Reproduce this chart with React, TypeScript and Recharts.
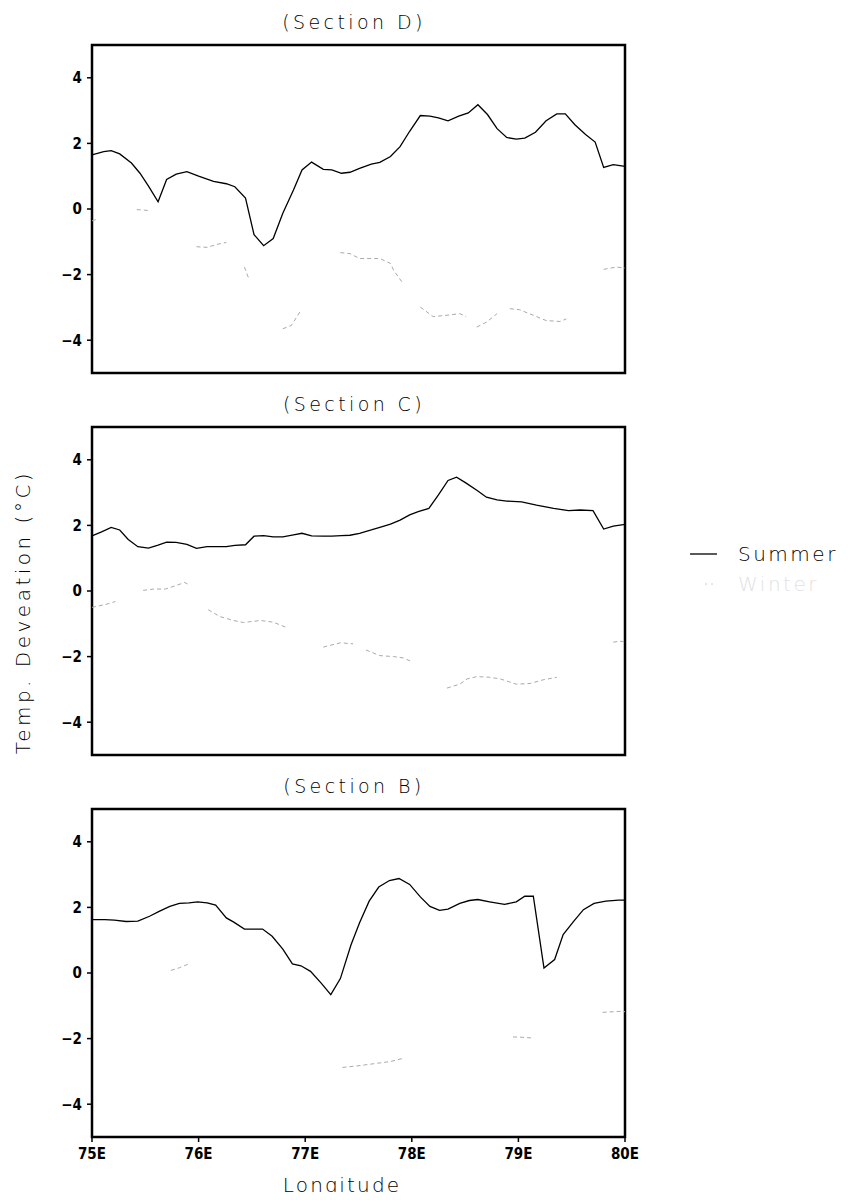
import { LineChart, Line, XAxis, YAxis, ReferenceArea } from "recharts";

// longitude ticks and value ticks
const lonTicks = [75, 76, 77, 78, 79, 80];
const valTicks = [-4, -2, 0, 2, 4];

// Section D
const dSummerLon = [
  75.0, 75.11, 75.18, 75.26, 75.37, 75.45, 75.53, 75.62, 75.7, 75.79, 75.89, 76.0,
  76.14, 76.26, 76.34, 76.44, 76.52, 76.61, 76.7, 76.79, 76.89, 76.97, 77.06, 77.17,
  77.25, 77.34, 77.42, 77.51, 77.62, 77.7, 77.8, 77.89, 77.98, 78.08, 78.17, 78.25,
  78.34, 78.44, 78.53, 78.62, 78.71, 78.8, 78.89, 78.98, 79.06, 79.16, 79.26, 79.36,
  79.44, 79.53, 79.63, 79.72, 79.8, 79.89, 80.0,
];
const dSummer = [
  1.65, 1.75, 1.78, 1.68, 1.4, 1.09, 0.7, 0.22, 0.9, 1.06, 1.14, 1.0,
  0.84, 0.77, 0.68, 0.33, -0.78, -1.12, -0.9, -0.13, 0.58, 1.19, 1.43, 1.21,
  1.19, 1.09, 1.12, 1.24, 1.37, 1.42, 1.6, 1.9, 2.37, 2.85, 2.83, 2.78,
  2.69, 2.83, 2.93, 3.18, 2.88, 2.45, 2.18, 2.13, 2.16, 2.34, 2.69, 2.9,
  2.9, 2.57, 2.27, 2.04, 1.27, 1.35, 1.3,
];
const dWinterLon = [
  75.0, 75.06, 75.2,
  75.42, 75.48, 75.53, 75.7,
  75.98, 76.08, 76.17, 76.26, 76.35,
  76.43, 76.47, 76.6,
  76.79, 76.87, 76.95, 77.1,
  77.33, 77.42, 77.51, 77.7, 77.8, 77.83, 77.92, 78.0,
  78.08, 78.2, 78.33, 78.45, 78.51, 78.56,
  78.61, 78.7, 78.8, 78.86,
  78.92, 79.01, 79.14, 79.26, 79.39, 79.45, 79.6,
  79.8, 79.92, 80.0,
];
const dWinter = [
  -0.36, -0.3, null,
  -0.02, -0.03, -0.05, null,
  -1.15, -1.17, -1.08, -1.02, null,
  -1.77, -2.12, null,
  -3.65, -3.55, -3.14, null,
  -1.33, -1.36, -1.51, -1.51, -1.66, -1.87, -2.28, null,
  -2.99, -3.28, -3.24, -3.19, -3.28, null,
  -3.6, -3.45, -3.19, null,
  -3.04, -3.07, -3.24, -3.4, -3.43, -3.35, null,
  -1.84, -1.77, -1.8,
];

// Section C
const cSummerLon = [
  75.0, 75.09, 75.18, 75.26, 75.34, 75.43, 75.53, 75.62, 75.7, 75.79, 75.89, 75.98,
  76.08, 76.17, 76.26, 76.34, 76.44, 76.52, 76.61, 76.7, 76.79, 76.89, 76.97, 77.06,
  77.17, 77.25, 77.34, 77.42, 77.51, 77.62, 77.7, 77.8, 77.89, 77.98, 78.06, 78.16,
  78.25, 78.34, 78.42, 78.51, 78.62, 78.7, 78.8, 78.89, 79.03, 79.17, 79.33, 79.47,
  79.58, 79.7, 79.8, 79.89, 80.0,
];
const cSummer = [
  1.68, 1.8, 1.94, 1.86, 1.57, 1.35, 1.31, 1.4, 1.49, 1.48, 1.42, 1.3,
  1.35, 1.35, 1.35, 1.39, 1.41, 1.67, 1.69, 1.65, 1.65, 1.71, 1.76, 1.68,
  1.67, 1.67, 1.69, 1.7, 1.76, 1.86, 1.94, 2.04, 2.16, 2.32, 2.42, 2.52,
  2.93, 3.37, 3.47, 3.29, 3.05, 2.86, 2.78, 2.74, 2.72, 2.62, 2.52, 2.45,
  2.47, 2.45, 1.89, 1.98, 2.03,
];
const cWinterLon = [
  75.0, 75.14, 75.22, 75.35,
  75.48, 75.58, 75.69, 75.79, 75.87, 75.92, 76.0,
  76.09, 76.2, 76.33, 76.42, 76.58, 76.7, 76.83, 77.0,
  77.17, 77.33, 77.45, 77.5,
  77.57, 77.7, 77.83, 77.92, 78.01, 78.1,
  78.33, 78.45, 78.52, 78.61, 78.73, 78.83, 78.98, 79.11, 79.23, 79.36, 79.6,
  79.89, 79.95, 80.0,
];
const cWinter = [
  -0.5, -0.4, -0.32, null,
  0.02, 0.06, 0.06, 0.17, 0.26, 0.17, null,
  -0.57, -0.78, -0.9, -0.96, -0.9, -0.95, -1.12, null,
  -1.71, -1.58, -1.61, null,
  -1.8, -1.97, -2.0, -2.04, -2.17, null,
  -2.96, -2.84, -2.68, -2.61, -2.63, -2.68, -2.84, -2.82, -2.71, -2.63, null,
  -1.56, -1.53, -1.55,
];

// Section B
const bSummerLon = [
  75.0, 75.12, 75.21, 75.32, 75.43, 75.54, 75.63, 75.73, 75.82, 75.91, 75.99, 76.08,
  76.16, 76.26, 76.33, 76.43, 76.51, 76.6, 76.69, 76.79, 76.88, 76.96, 77.05, 77.15,
  77.24, 77.33, 77.43, 77.51, 77.6, 77.69, 77.79, 77.88, 77.98, 78.08, 78.17, 78.26,
  78.34, 78.45, 78.54, 78.62, 78.73, 78.87, 78.98, 79.06, 79.14, 79.24, 79.34, 79.42,
  79.52, 79.61, 79.71, 79.82, 79.94, 80.0,
];
const bSummer = [
  1.63, 1.63, 1.61, 1.57, 1.58, 1.73, 1.88, 2.03, 2.12, 2.14, 2.17, 2.14,
  2.07, 1.68, 1.55, 1.34, 1.34, 1.34, 1.12, 0.73, 0.28, 0.22, 0.05, -0.31,
  -0.66, -0.17, 0.86, 1.53, 2.19, 2.62, 2.82, 2.88, 2.7, 2.32, 2.03, 1.91,
  1.95, 2.12, 2.21, 2.24, 2.17, 2.09, 2.17, 2.34, 2.34, 0.15, 0.41, 1.17,
  1.58, 1.93, 2.12, 2.19, 2.22, 2.22,
];
const bWinterLon = [
  75.74, 75.82, 75.91, 76.0,
  77.35, 77.52, 77.68, 77.8, 77.93, 78.0,
  78.95, 79.04, 79.13, 79.3,
  79.79, 79.94, 80.0,
];
const bWinter = [
  0.08, 0.16, 0.28, null,
  -2.88, -2.82, -2.75, -2.7, -2.59, null,
  -1.95, -1.96, -1.98, null,
  -1.2, -1.17, -1.18,
];

const toRows = (lons: number[], vals: (number | null)[]) =>
  lons.map((lon, i) => ({ lon, v: vals[i] }));

const THIN = "'DejaVu Sans', sans-serif";
const TICK = "'Liberation Sans Narrow', 'DejaVu Sans Condensed', sans-serif";

function Panel({
  title,
  top,
  summer,
  winter,
  showX,
}: {
  title: string;
  top: number;
  summer: { lon: number; v: number | null }[];
  winter: { lon: number; v: number | null }[];
  showX: boolean;
}) {
  const plotH = 328;
  const height = 10 + plotH + (showX ? 32 : 5);
  return (
    <>
      <div
        style={{
          position: "absolute",
          left: 354 - 150,
          width: 300,
          top: top - 34,
          textAlign: "center",
          fontFamily: THIN,
          fontWeight: 200,
          fontSize: 19,
          letterSpacing: 3.4,
          lineHeight: "22px",
        }}
      >
        {title}
      </div>
      <div style={{ position: "absolute", left: 0, top: top - 10 }}>
        <LineChart
          width={640}
          height={height}
          margin={{ top: 10, right: 15, left: 0, bottom: showX ? 0 : 5 }}
        >
          <XAxis
            type="number"
            dataKey="lon"
            domain={[75, 80]}
            ticks={lonTicks}
            hide={!showX}
            allowDuplicatedCategory={false}
            tickFormatter={(v) => `${v}E`}
            axisLine={false}
            tickLine={{ stroke: "#000", strokeWidth: 1.5 }}
            tickSize={5}
            tickMargin={6}
            tick={{ fill: "#000", fontFamily: TICK, fontWeight: 700, fontSize: 15 }}
            height={32}
          />
          <YAxis
            type="number"
            domain={[-5, 5]}
            ticks={valTicks}
            width={92}
            axisLine={false}
            tickLine={{ stroke: "#000", strokeWidth: 1.5 }}
            tickSize={5}
            tickMargin={5}
            tickFormatter={(v) => (v < 0 ? `\u2212${-v}` : `${v}`)}
            tick={{ fill: "#000", fontFamily: TICK, fontWeight: 700, fontSize: 15 }}
          />
          <Line
            data={winter}
            dataKey="v"
            type="linear"
            stroke="#aaa"
            strokeWidth={1}
            strokeDasharray="4 3"
            dot={false}
            connectNulls={false}
            isAnimationActive={false}
          />
          <Line
            data={summer}
            dataKey="v"
            type="linear"
            stroke="#000"
            strokeWidth={1.3}
            dot={false}
            isAnimationActive={false}
          />
          <ReferenceArea
            x1={75}
            x2={80}
            y1={-5}
            y2={5}
            fill="none"
            stroke="#000"
            strokeWidth={2.5}
          />
        </LineChart>
      </div>
    </>
  );
}

export default function App() {
  return (
    <div
      style={{
        position: "relative",
        margin: -8,
        width: 848,
        height: 1200,
        background: "#fff",
        overflow: "hidden",
      }}
    >
      <Panel title="(Section D)" top={45} summer={toRows(dSummerLon, dSummer)} winter={toRows(dWinterLon, dWinter)} showX={false} />
      <Panel title="(Section C)" top={427} summer={toRows(cSummerLon, cSummer)} winter={toRows(cWinterLon, cWinter)} showX={false} />
      <Panel title="(Section B)" top={809} summer={toRows(bSummerLon, bSummer)} winter={toRows(bWinterLon, bWinter)} showX={true} />

      {/* y axis title */}
      <div
        style={{
          position: "absolute",
          left: 23 - 200,
          top: 612 - 12,
          width: 400,
          lineHeight: "24px",
          textAlign: "center",
          transform: "rotate(-90deg)",
          fontFamily: THIN,
          fontWeight: 200,
          fontSize: 20,
          letterSpacing: 3.5,
        }}
      >
        Temp. Deveation (°C)
      </div>

      {/* x axis title */}
      <div
        style={{
          position: "absolute",
          left: 342 - 100,
          top: 1173,
          width: 200,
          textAlign: "center",
          fontFamily: THIN,
          fontWeight: 200,
          fontSize: 20,
          letterSpacing: 2.2,
          lineHeight: "24px",
        }}
      >
        Longitude
      </div>

      {/* legend */}
      <svg style={{ position: "absolute", left: 680, top: 540 }} width={168} height={60}>
        <line x1={10} x2={37} y1={14} y2={14} stroke="#000" strokeWidth={1.3} />
        <line x1={25} x2={37} y1={44} y2={44} stroke="#ccc" strokeWidth={1} strokeDasharray="2 4" />
        <text x={58} y={21} fontFamily={THIN} fontWeight={200} fontSize={20} letterSpacing={2.5} fill="#000">
          Summer
        </text>
        <text x={58} y={51} fontFamily={THIN} fontWeight={200} fontSize={20} letterSpacing={2.5} fill="#e2e2e2">
          Winter
        </text>
      </svg>
    </div>
  );
}
